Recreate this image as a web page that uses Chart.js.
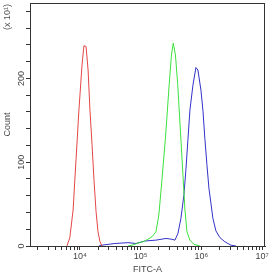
<!DOCTYPE html>
<html>
<head>
<meta charset="utf-8">
<script src="https://cdn.jsdelivr.net/npm/chart.js@4/dist/chart.umd.min.js"></script>
<style>
  html, body { margin: 0; padding: 0; background: #fff; }
  canvas { display: block; }
</style>
</head>
<body>
<canvas id="myChart" width="272" height="275"></canvas>
<script>
// FITC-A intensity (x) and event count (y)
const redX = [6100, 6800, 7700, 8600, 9600, 10800, 11600, 12600, 13600, 14600, 15800, 17000, 18400, 19800, 21400, 23000];
const redY = [0, 10, 43, 103, 162, 216, 239, 238, 210, 162, 121, 79, 41, 17, 5, 0];

const greenX = [61800, 71900, 117800, 153500, 178800, 200000, 224300, 256300, 296000, 321600, 344400, 374400, 407000, 461000, 497600, 537000, 579500, 648000, 755000, 948000];
const greenY = [0, 1, 6, 11, 17, 38, 79, 129, 194, 228, 242, 228, 194, 127, 85, 43, 17, 7, 2, 0];

const blueX = [20500, 23000, 37700, 61800, 83700, 117800, 178800, 261200, 328000, 367500, 411600, 461000, 516300, 557000, 601000, 648000, 727000, 814000, 878000, 985000, 1062000, 1146000, 1236000, 1333000, 1439000, 1552000, 1740000, 2024000, 2447000, 3076000, 3718000];
const blueY = [0, 1, 3, 4, 3, 6, 7, 9, 8, 7, 15, 33, 61, 91, 127, 162, 192, 213, 210, 186, 162, 127, 97, 69, 51, 33, 18, 10, 5, 1, 0];

const xMin = 1500, xMax = 11200000;
const yMin = 0, yMax = 290;
const xMajors = [10000, 100000, 1000000, 10000000];
const xMajorLabels = ['10\u2074', '10\u2075', '10\u2076', '10\u2077'];
const yMajors = [0, 100, 200];

function pts(xs, ys) {
    return xs.map((x, i) => ({x: x, y: ys[i]}));
}

const ink = '#333';
const labelFont = {family: 'Liberation Sans, Arial, sans-serif', size: 9};

const frame = {
    id: 'frame',
    afterDraw(chart) {
        const {ctx, chartArea: a} = chart;
        ctx.save();
        ctx.strokeStyle = ink;
        ctx.lineWidth = 1;
        ctx.strokeRect(a.left + 0.5, a.top + 0.5, a.right - a.left - 1, a.bottom - a.top);
        // axis multiplier note
        ctx.translate(8, 17);
        ctx.rotate(-Math.PI / 2);
        ctx.fillStyle = '#555';
        ctx.font = '9px Liberation Sans, Arial, sans-serif';
        ctx.textAlign = 'center';
        ctx.textBaseline = 'middle';
        ctx.fillText('(x 10\u00B9)', 0, 0);
        ctx.restore();
    }
};

const ds = (label, xs, ys, color) => ({
    label: label,
    data: pts(xs, ys),
    showLine: true,
    fill: false,
    borderColor: color,
    backgroundColor: color,
    borderWidth: 1,
    pointRadius: 0,
    tension: 0
});

new Chart(document.getElementById('myChart').getContext('2d'), {
    type: 'scatter',
    data: {
        datasets: [
            ds('red', redX, redY, 'rgb(228, 70, 70)'),
            ds('green', greenX, greenY, 'rgb(60, 225, 60)'),
            ds('blue', blueX, blueY, 'rgb(50, 50, 200)')
        ]
    },
    options: {
        responsive: false,
        animation: false,
        layout: {padding: {top: 3, right: 7, left: 0, bottom: 0}},
        plugins: {legend: {display: false}, tooltip: {enabled: false}},
        scales: {
            x: {
                type: 'logarithmic',
                min: xMin,
                max: xMax,
                afterBuildTicks(scale) {
                    const t = [];
                    for (let p = 1000; p <= 1000000; p *= 10) {
                        for (let m = 1; m <= 9; m++) {
                            const v = m * p;
                            if (v >= xMin && v <= xMax) t.push({value: v});
                        }
                    }
                    t.push({value: 10000000});
                    scale.ticks = t;
                },
                afterFit(scale) { scale.height = 29; },
                grid: {drawOnChartArea: false, drawTicks: true, tickLength: 4, tickColor: ink},
                border: {display: true, color: ink},
                ticks: {
                    autoSkip: false,
                    maxRotation: 0,
                    minRotation: 0,
                    padding: 1,
                    color: '#444',
                    font: labelFont,
                    callback(v) {
                        const i = xMajors.indexOf(v);
                        return i >= 0 ? xMajorLabels[i] : '';
                    }
                },
                title: {display: true, text: 'FITC-A', color: '#444', font: labelFont, padding: 0}
            },
            y: {
                min: yMin,
                max: yMax,
                afterBuildTicks(scale) {
                    const t = [];
                    for (let v = 0; v <= 280; v += 20) t.push({value: v});
                    scale.ticks = t;
                },
                afterFit(scale) { scale.width = 30; },
                grid: {drawOnChartArea: false, drawTicks: true, tickLength: 4, tickColor: ink},
                border: {display: true, color: ink},
                ticks: {
                    autoSkip: false,
                    minRotation: 90,
                    maxRotation: 90,
                    crossAlign: 'center',
                    padding: -3,
                    color: '#444',
                    font: labelFont,
                    callback(v) {
                        return yMajors.includes(v) ? String(v) : '';
                    }
                },
                title: {display: true, text: 'Count', color: '#444', font: labelFont, padding: {top: 2, bottom: 0}}
            }
        }
    },
    plugins: [frame]
});
</script>
</body>
</html>
